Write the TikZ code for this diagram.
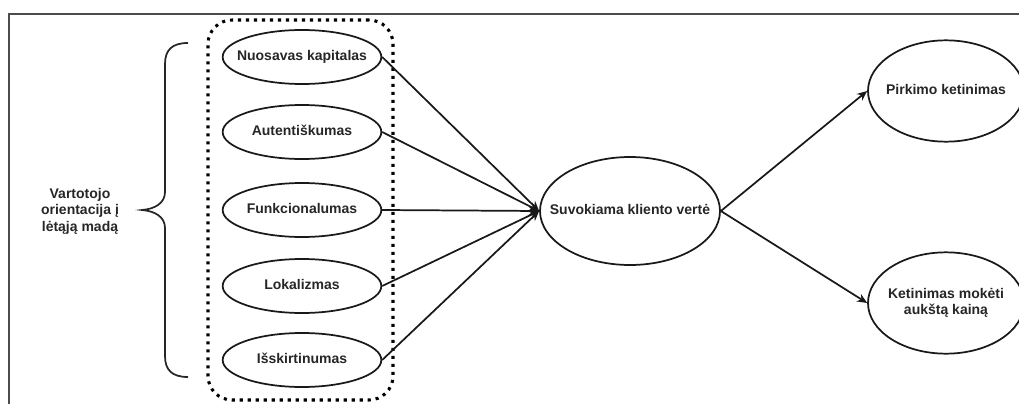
\documentclass[tikz,border=0pt]{standalone}
\usepackage{fontspec}
\setmainfont{Liberation Sans}
\usetikzlibrary{arrows.meta,shapes.geometric}
\newcommand{\zw}[1]{\makebox[0pt][c]{\begin{tabular}{@{}c@{}}#1\end{tabular}}}
\begin{document}
\begin{tikzpicture}[x=0.75pt,y=-0.75pt,
  lbl/.style={font=\bfseries\fontsize{10.5}{12.5}\selectfont, text=black!85, align=center},
  oval/.style={lbl, draw=black!90, ellipse, line width=1.3pt, inner sep=0pt},
  smalloval/.style={oval, minimum width=119pt, minimum height=40.5pt},
  midoval/.style={oval, minimum width=135pt, minimum height=81pt},
  bigoval/.style={oval, minimum width=117pt, minimum height=76pt},
  groupbox/.style={draw=black, line width=2.3pt, dash pattern=on 2.3pt off 3.7pt, rounded corners=18pt, minimum width=138.75pt, minimum height=285pt, inner sep=0pt},
  conn/.style={draw=black!90, line width=1.3pt, -{Stealth[length=7.5pt,width=6.5pt]}},
  frameline/.style={draw=black!70, line width=1.2pt},
  bracestyle/.style={draw=black!85, line width=1.3pt}
]
\useasboundingbox (0,0) rectangle (1019,403);
\draw[frameline] (9,404) -- (9,14) -- (1020,14);

\node[groupbox] (grp) at (300.5,210) {};

\node[smalloval] (n1) at (302,57) {\zw{Nuosavas kapitalas}};
\node[smalloval] (n2) at (302,132) {\zw{Autentiškumas}};
\node[smalloval] (n3) at (302,210) {\zw{Funkcionalumas}};
\node[smalloval] (n4) at (302,286) {\zw{Lokalizmas}};
\node[smalloval] (n5) at (302,360) {\zw{Išskirtinumas}};

\node[midoval] (c) at (630,211) {\zw{Suvokiama kliento vertė}};

\node[bigoval] (p) at (946,91) {\zw{Pirkimo ketinimas}};
\node[bigoval] (k) at (946,303) {\zw{Ketinimas mokėti\\aukštą kainą}};

\node[lbl, font=\bfseries\fontsize{10.5}{12.4}\selectfont] (orient) at (80,211) {Vartotojo\\orientacija į\\lėtąją madą};

\draw[bracestyle] (188,43) .. controls (172,43) and (165,50) .. (165,64)
  -- (165,192) .. controls (165,203) and (155,209) .. (142,210)
  .. controls (155,211) and (165,217) .. (165,228)
  -- (165,356) .. controls (165,370) and (172,377) .. (188,377);

\foreach \s in {n1,n2,n3,n4,n5}
  \draw[conn] (\s.east) -- (c.west);
\draw[conn] (c.east) -- (p.west);
\draw[conn] (c.east) -- (k.west);
\end{tikzpicture}
\end{document}
